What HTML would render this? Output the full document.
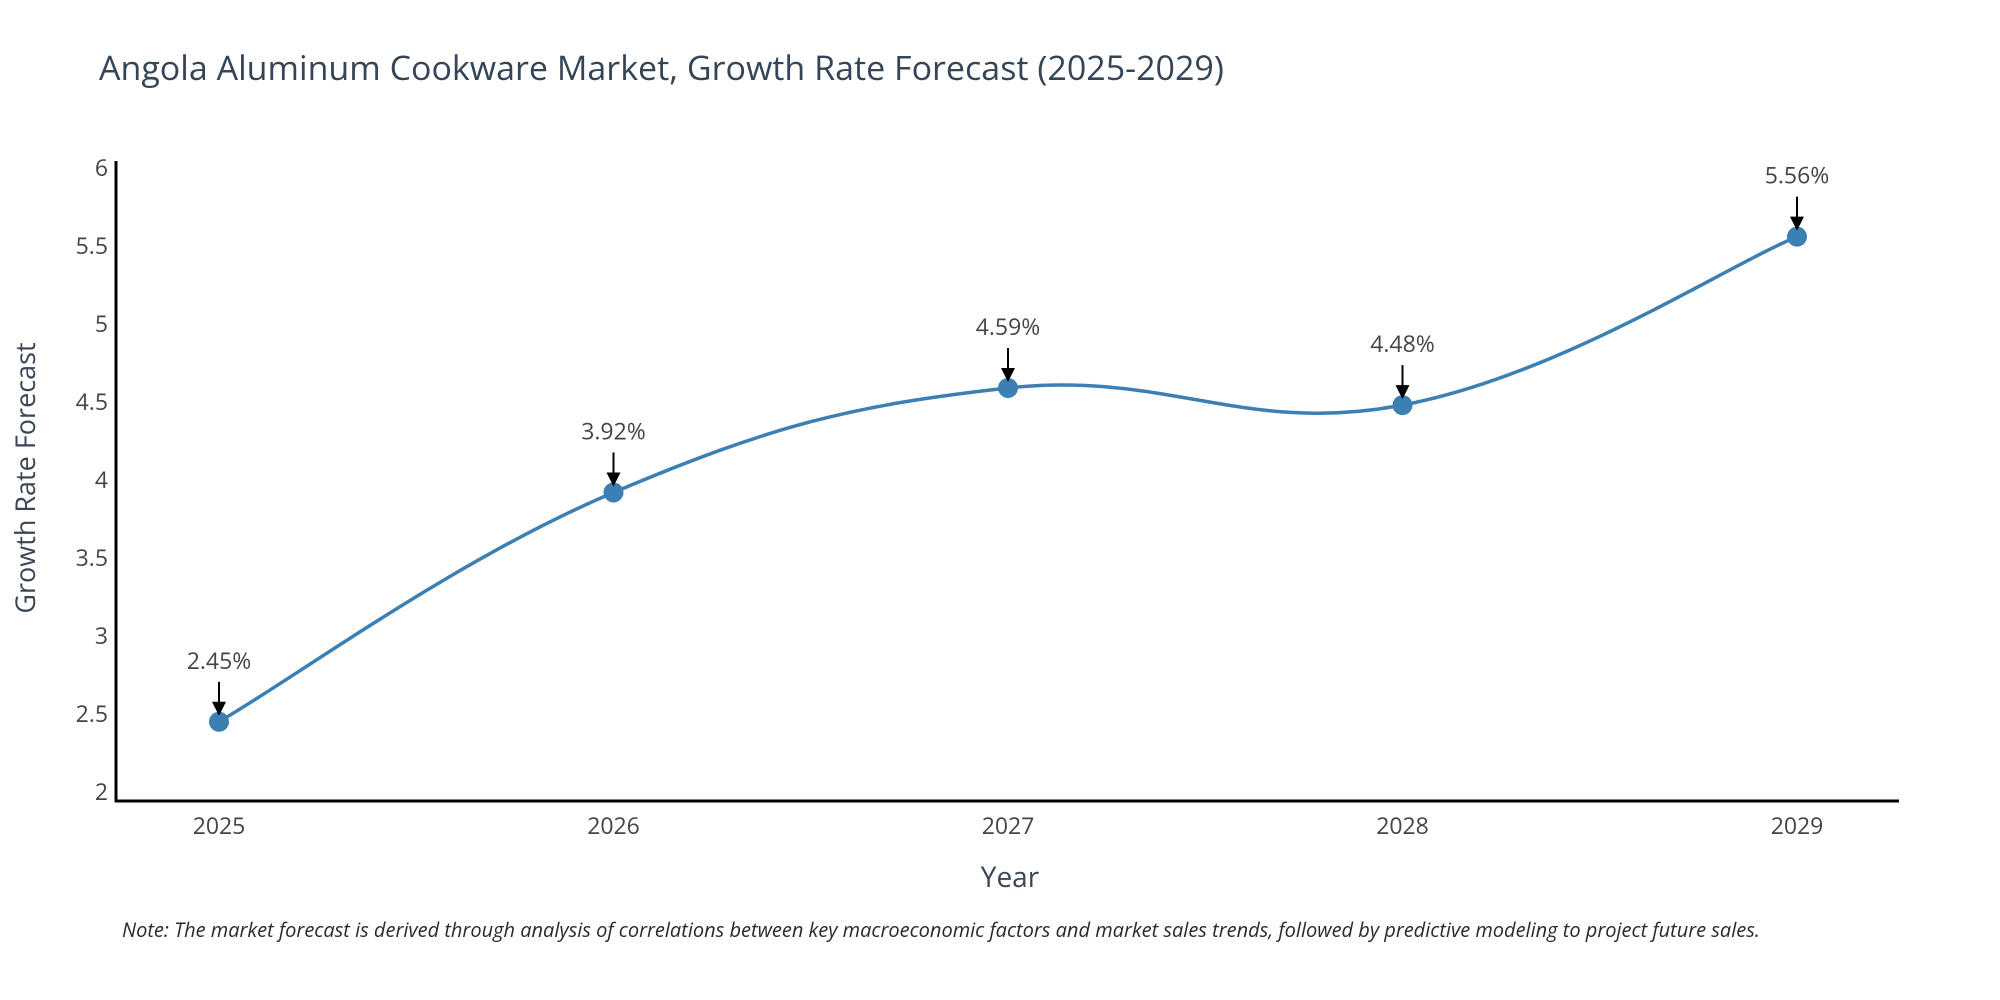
<!DOCTYPE html>
<html><head><meta charset="utf-8"><style>
body{margin:0;background:#fff;}
svg{display:block;font-family:"Open Sans","Liberation Sans",sans-serif;}
</style></head><body>
<svg id="chart" width="2000" height="1000" viewBox="0 0 2000 1000">
<text x="99" y="80" font-size="34" fill="#344557">Angola Aluminum Cookware Market, Growth Rate Forecast (2025-2029)</text>
<g id="yticks"></g>
<g id="xticks"></g>
<line x1="116" y1="161" x2="116" y2="802" stroke="#000" stroke-width="3"/>
<line x1="115" y1="801" x2="1899" y2="801" stroke="#000" stroke-width="3"/>
<path id="line" fill="none" stroke="#3b7fb3" stroke-width="3.5"/>
<g id="points"></g>
<g id="annos"></g>
<text x="1010" y="887" font-size="28" fill="#3a4656" text-anchor="middle">Year</text>
<text transform="translate(35,478) rotate(-90)" font-size="27" fill="#3a4656" text-anchor="middle">Growth Rate Forecast</text>
<text x="122" y="937" font-size="20" font-style="italic" fill="#2a2a2a">Note: The market forecast is derived through analysis of correlations between key macroeconomic factors and market sales trends, followed by predictive modeling to project future sales.</text>
</svg>
<script>
const years = ["2025","2026","2027","2028","2029"];
const values = [2.45, 3.92, 4.59, 4.48, 5.56];
const yTickValues = [2, 2.5, 3, 3.5, 4, 4.5, 5, 5.5, 6];
const yTickLabels = ["2","2.5","3","3.5","4","4.5","5","5.5","6"];

const NS = "http://www.w3.org/2000/svg";
function xScale(i){ return 219 + i * (1797 - 219) / (years.length - 1); }
function yScale(v){ return 792 - (v - 2) * (792 - 168) / 4; }
function mk(tag, attrs, parent){ const e = document.createElementNS(NS, tag); for (const k in attrs) e.setAttribute(k, attrs[k]); parent.appendChild(e); return e; }

const yt = document.getElementById('yticks');
yTickValues.forEach((v, i) => {
  const t = mk('text', {x: 108, y: yScale(v) + 8, 'font-size': 23, fill: '#444', 'text-anchor': 'end'}, yt);
  
  
  t.textContent = yTickLabels[i];
});
const xt = document.getElementById('xticks');
years.forEach((y, i) => {
  const t = mk('text', {x: xScale(i), y: 834, 'font-size': 23, fill: '#444', 'text-anchor': 'middle'}, xt);
  
  
  t.textContent = y;
});

const pts = values.map((v, i) => [xScale(i), yScale(v)]);
let d = `M${pts[0][0]},${pts[0][1]}`;
const k = 0.2;
for (let i = 0; i < pts.length - 1; i++) {
  const p0 = pts[Math.max(0, i - 1)], p1 = pts[i], p2 = pts[i + 1], p3 = pts[Math.min(pts.length - 1, i + 2)];
  const c1 = [p1[0] + (p2[0] - p0[0]) * k, p1[1] + (p2[1] - p0[1]) * k];
  const c2 = [p2[0] - (p3[0] - p1[0]) * k, p2[1] - (p3[1] - p1[1]) * k];
  d += ` C${c1[0]},${c1[1]} ${c2[0]},${c2[1]} ${p2[0]},${p2[1]}`;
}
document.getElementById('line').setAttribute('d', d);

const pg = document.getElementById('points');
const ag = document.getElementById('annos');
pts.forEach((p, i) => {
  const c = mk('circle', {cx: p[0], cy: p[1], r: 10, fill: '#3b7fb3'}, pg);
  
  
  const l = mk('line', {x1: p[0], y1: p[1] - 40, x2: p[0], y2: p[1] - 18, stroke: '#000', 'stroke-width': 2}, ag);
  
  
  const h = mk('polygon', {points: `${p[0]-7},${p[1]-20} ${p[0]+7},${p[1]-20} ${p[0]},${p[1]-6}`, fill: '#000'}, ag);
  
  
  const t = mk('text', {x: p[0], y: p[1] - 53, 'font-size': 23, fill: '#444', 'text-anchor': 'middle'}, ag);
  
  
  t.textContent = values[i].toFixed(2) + '%';
});
</script>
</body></html>
